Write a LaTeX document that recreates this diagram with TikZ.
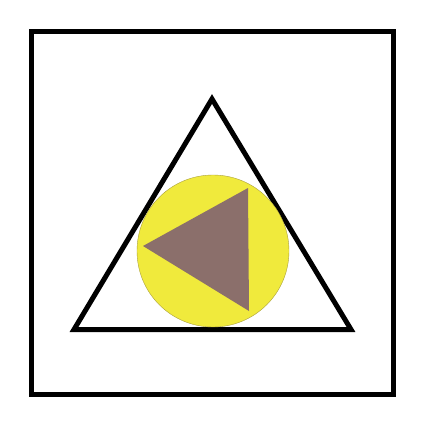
\documentclass[tikz,border=0pt]{standalone}
\usepackage{tikz}
\definecolor{signyellow}{RGB}{240,234,60}
\definecolor{signbrown}{RGB}{139,111,107}
\definecolor{signedge}{RGB}{170,160,60}
\tikzstyle{frame} = [line width=5pt, draw=black]
\tikzstyle{warning} = [line width=5pt, draw=black, line join=miter]
\tikzstyle{disc} = [fill=signyellow, draw=signedge, line width=0.4pt]
\tikzstyle{pointer} = [fill=signbrown]

\begin{document}
\begin{tikzpicture}[x=1pt, y=-1pt]
\useasboundingbox (0,0) rectangle (425,425);
\draw [frame] (31.5,31.5) rectangle (393.5,394.5);
\draw [warning] (212,99) -- (74,329.5) -- (351,329.5) -- cycle;
\draw [disc] (213,251) circle (76);
\fill [pointer] (248,188) -- (143,246) -- (249,311) -- cycle;
\end{tikzpicture}
\end{document}
